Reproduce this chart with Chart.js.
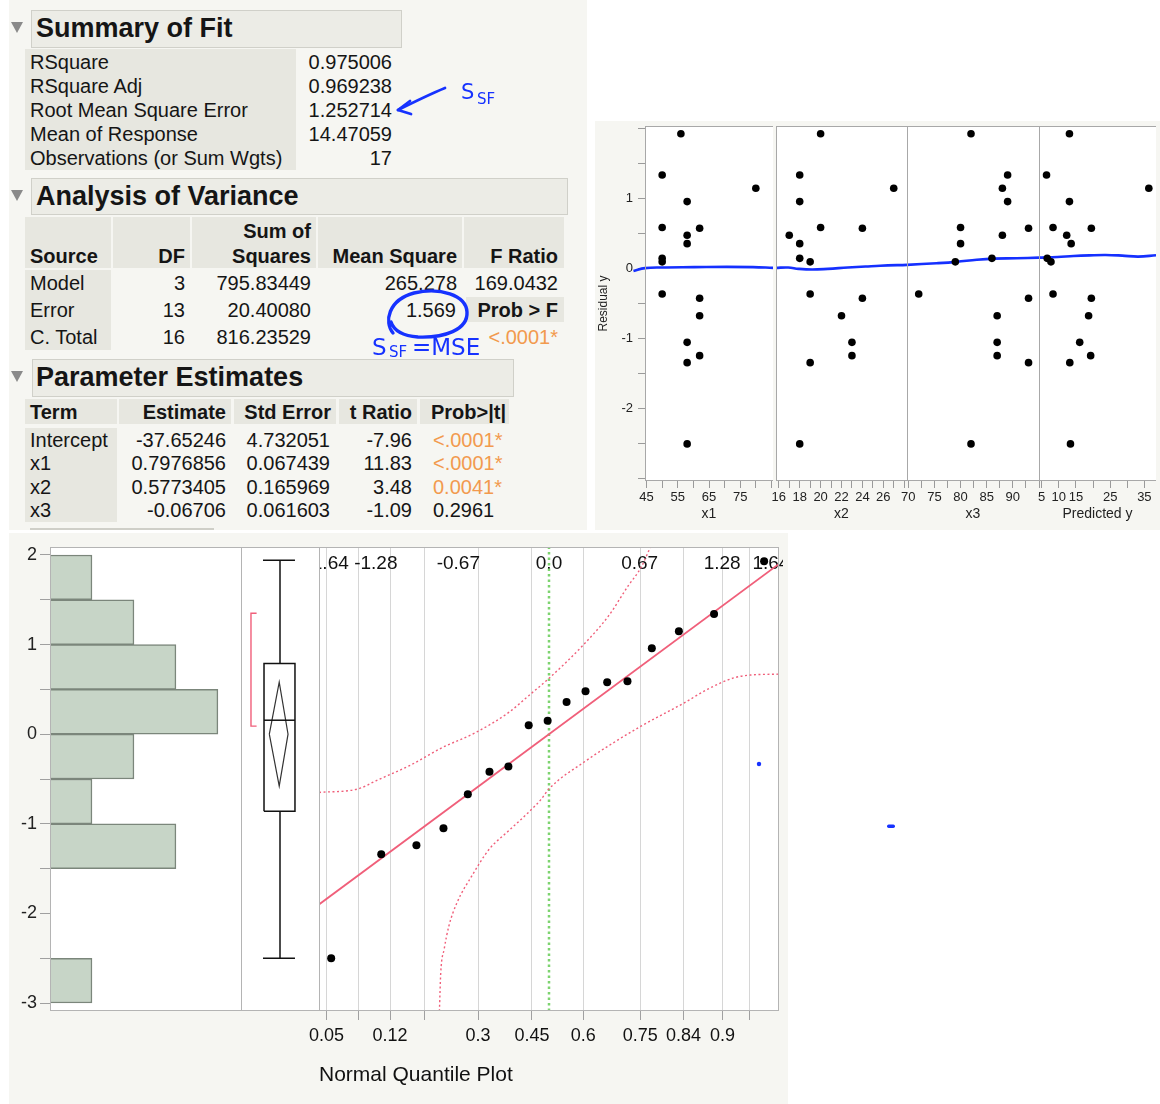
<!DOCTYPE html>
<html lang="en">
<head>
<meta charset="utf-8">
<title>Fit Least Squares - y</title>
<script src="https://cdn.jsdelivr.net/npm/chart.js@4.4.1/dist/chart.umd.min.js"></script>
<style>
  html, body { margin: 0; padding: 0; background: #fff; }
  body { position: relative; width: 1160px; height: 1104px; overflow: hidden;
         font-family: "Liberation Sans", Arial, Helvetica, sans-serif; color: #151515; }
  .panel { position: absolute; background: #f6f6f2; }
  .cell { position: absolute; background: #e7e7e0; }
  .hbox { position: absolute; background: #ececE6; border: 1px solid #d0d0c9; box-sizing: border-box; }
  .tri { position: absolute; width: 0; height: 0; border-left: 6px solid transparent;
         border-right: 6px solid transparent; border-top: 11px solid #8a8a8a; }
  .t { position: absolute; white-space: nowrap; font-size: 20px; line-height: 24px; height: 24px; }
  .b { font-weight: bold; }
  .h { font-weight: bold; font-size: 27px; line-height: 32px; height: 32px; }
  .o { color: #f29a4e; }
  canvas { position: absolute; }
  #ink { position: absolute; left: 0; top: 0; z-index: 10; pointer-events: none; }
</style>
</head>
<body>
<!-- panel backgrounds -->
<div class="panel" style="left:9px;top:0;width:578px;height:530px"></div>
<div class="panel" style="left:595px;top:121px;width:565px;height:409px"></div>
<div class="panel" style="left:9px;top:533px;width:779px;height:571px"></div>

<!-- report tables (cells + header boxes) -->
<div class="tri" style="left:11px;top:22px"></div>
<div class="hbox" style="left:31px;top:10px;width:371px;height:38px"></div>
<div class="cell" style="left:25px;top:49px;width:271px;height:121px"></div>

<div class="tri" style="left:11px;top:190px"></div>
<div class="hbox" style="left:31px;top:178px;width:537px;height:37px"></div>
<div class="cell" style="left:25px;top:217px;width:86px;height:51px"></div>
<div class="cell" style="left:113px;top:217px;width:77px;height:51px"></div>
<div class="cell" style="left:192px;top:217px;width:124px;height:51px"></div>
<div class="cell" style="left:318px;top:217px;width:144px;height:51px"></div>
<div class="cell" style="left:464px;top:217px;width:100px;height:51px"></div>
<div class="cell" style="left:25px;top:270px;width:86px;height:80px"></div>
<div class="cell" style="left:466px;top:297px;width:98px;height:25px"></div>

<div class="tri" style="left:11px;top:371px"></div>
<div class="hbox" style="left:32px;top:359px;width:482px;height:38px"></div>
<div class="cell" style="left:25px;top:399px;width:92px;height:25px"></div>
<div class="cell" style="left:119px;top:399px;width:112px;height:25px"></div>
<div class="cell" style="left:234px;top:399px;width:102px;height:25px"></div>
<div class="cell" style="left:339px;top:399px;width:78px;height:25px"></div>
<div class="cell" style="left:420px;top:399px;width:89px;height:25px"></div>
<div class="cell" style="left:25px;top:428px;width:92px;height:94px"></div>
<div style="position:absolute;left:30px;top:528px;width:184px;height:2px;background:#cfcfc8"></div>

<!-- charts -->
<canvas id="r1" width="182" height="408" style="left:595px;top:122px"></canvas>
<canvas id="r2" width="151" height="408" style="left:766px;top:122px"></canvas>
<canvas id="r3" width="152" height="408" style="left:897px;top:122px"></canvas>
<canvas id="r4" width="131" height="408" style="left:1029px;top:122px"></canvas>
<canvas id="hist" width="242" height="571" style="left:0;top:533px"></canvas>
<canvas id="qq" width="483" height="571" style="left:300px;top:533px"></canvas>
<canvas id="box" width="78" height="571" style="left:241px;top:533px"></canvas>

<!-- handwritten notes -->
<svg id="ink" width="1160" height="1104" viewBox="0 0 1160 1104">
  <g fill="none" stroke="#1632ff" stroke-width="2.8" stroke-linecap="round" stroke-linejoin="round">
    <path d="M445 88 C428 95 412 103 398 110"/>
    <path d="M410 101 L398 110 L411 114"/>
    <path d="M393 333 C384 322 388 300 414 293 C440 287 466 295 467 312 C468 330 444 338 418 337 C404 336 394 331 391 322" stroke-width="3.4"/>
  </g>
  <g fill="#1632ff" font-family="DejaVu Sans, sans-serif">
    <text x="461" y="99" font-size="21">S</text>
    <text x="477" y="104" font-size="15">SF</text>
    <text x="372" y="355" font-size="23">S</text>
    <text x="389" y="357" font-size="15">SF</text>
    <text x="412" y="355" font-size="23">=MSE</text>
    <circle cx="759" cy="764" r="2.2"/>
    <rect x="887" y="824.5" width="8" height="3.5" rx="1.7"/>
  </g>
</svg>

<script>
// ---- residuals vs. each term (one entry per observation) ----
const obsResidual = [1.93, 1.34, 1.15, 0.96, 0.59, 0.58, 0.48, 0.36, 0.15, 0.10, -0.36, -0.42, -0.67, -1.05, -1.24, -1.34, -2.50];
const obsX1 = [56, 50, 80, 58, 50, 62, 58, 58, 50, 50, 50, 62, 62, 58, 62, 58, 58];
const obsX2 = [20, 18, 27, 18, 20, 24, 17, 18, 18, 19, 19, 24, 22, 23, 23, 19, 18];
const obsX3 = [82, 89, 88, 89, 80, 93, 88, 80, 86, 79, 72, 93, 87, 87, 87, 93, 82];
const obsPred = [13.1, 6.4, 36.3, 13.1, 8.3, 19.5, 12.3, 13.6, 6.6, 7.7, 8.3, 19.5, 18.7, 16.1, 19.3, 13.2, 13.4];

// smoother (blue) in each panel: [x, residual]
const smoothX1 = [[40.8, -0.03], [44.5, 0.01], [49.8, 0.02], [60.3, 0.024], [70.7, 0.028], [79.1, 0.024], [85.5, 0.014]];
const smoothX2 = [[15.73, 0.014], [16.9, 0.019], [17.9, 0.0], [19.2, -0.01], [20.7, 0.0], [22.6, 0.019], [24.3, 0.033], [25.7, 0.045], [28.27, 0.057]];
const smoothX3 = [[69.76, 0.057], [75.4, 0.08], [79.2, 0.1], [83.1, 0.13], [86.3, 0.146], [90.7, 0.151], [95.0, 0.16]];
const smoothPred = [[4.2, 0.16], [9.6, 0.17], [14.3, 0.184], [19.0, 0.193], [23.7, 0.198], [28.5, 0.189], [33.2, 0.175], [38.4, 0.193]];

// axis ticks for the residual panels
const resTicks = [-3, -2.5, -2, -1.5, -1, -0.5, 0, 0.5, 1, 1.5, 2];
const resTickLabels = [-2, -1, 0, 1];
const x1Ticks = [45, 50, 55, 60, 65, 70, 75, 80, 85];
const x1Labels = [45, 55, 65, 75];
const x2Ticks = [16, 17, 18, 19, 20, 21, 22, 23, 24, 25, 26, 27, 28];
const x2Labels = [16, 18, 20, 22, 24, 26];
const x3Ticks = [70, 72.5, 75, 77.5, 80, 82.5, 85, 87.5, 90, 92.5, 95];
const x3Labels = [70, 75, 80, 85, 90];
const predTicks = [5, 10, 15, 20, 25, 30, 35];
const predLabels = [5, 10, 15, 25, 35];

// ---- distribution of residuals ----
const binCenters = [-2.75, -2.25, -1.75, -1.25, -0.75, -0.25, 0.25, 0.75, 1.25, 1.75];
const binCounts = [1, 0, 0, 3, 1, 2, 4, 3, 2, 1];
const histTicks = [-3, -2.5, -2, -1.5, -1, -0.5, 0, 0.5, 1, 1.5, 2];

// outlier box: [min, q1, median, q3, max], means diamond: [lower, mean, upper], shortest half: [low, high]
const boxValues = [-2.50, -0.86, 0.156, 0.79, 1.94];
const meanDiamond = [-0.58, 0.0, 0.58];
const shortestHalf = [0.09, 1.35];

// normal quantile plot
const qqZ = [-1.61, -1.24, -0.98, -0.78, -0.60, -0.44, -0.30, -0.15, -0.01, 0.13, 0.27, 0.43, 0.58, 0.76, 0.96, 1.22, 1.59];
const qqResidual = [-2.50, -1.34, -1.24, -1.05, -0.67, -0.42, -0.36, 0.10, 0.15, 0.36, 0.48, 0.58, 0.59, 0.96, 1.15, 1.34, 1.93];
const refLine = [[-1.70, -1.90], [1.70, 1.90]];
const upperBand = [[-1.70, -0.65], [-1.41, -0.61], [-1.28, -0.52], [-1.03, -0.35], [-0.79, -0.15], [-0.54, 0.02], [-0.30, 0.24],
                   [-0.15, 0.43], [-0.01, 0.61], [0.25, 0.99], [0.44, 1.32], [0.585, 1.655], [0.68, 1.86], [0.75, 2.09]];
const lowerBand = [[-0.81, -3.09], [-0.80, -2.66], [-0.775, -2.40], [-0.74, -2.14], [-0.68, -1.88], [-0.57, -1.58], [-0.44, -1.28],
                   [-0.30, -1.08], [-0.15, -0.87], [-0.06, -0.73], [0.0, -0.61], [0.27, -0.30], [0.44, -0.13], [0.68, 0.09],
                   [1.0, 0.35], [1.17, 0.50], [1.37, 0.63], [1.49, 0.66], [1.70, 0.67]];
const zTicks = [-1.64, -1.28, -0.67, 0, 0.67, 1.28, 1.64];
const zLabels = ['-1.64', '-1.28', '-0.67', '0.0', '0.67', '1.28', '1.64'];
const probTickZ = [-1.645, -1.41, -1.175, -0.92, -0.524, -0.126, 0.253, 0.674, 0.994, 1.282, 1.48];
const probLabels = ['0.05', '', '0.12', '', '0.3', '0.45', '0.6', '0.75', '0.84', '0.9', ''];

// ---- report text ----
const reportText = [
  ['Summary of Fit', 36, 28, 'l', 'h'],
  ['RSquare', 30, 62, 'l'], ['RSquare Adj', 30, 86, 'l'], ['Root Mean Square Error', 30, 110, 'l'],
  ['Mean of Response', 30, 134, 'l'], ['Observations (or Sum Wgts)', 30, 158, 'l'],
  ['0.975006', 392, 62, 'r'], ['0.969238', 392, 86, 'r'], ['1.252714', 392, 110, 'r'], ['14.47059', 392, 134, 'r'], ['17', 392, 158, 'r'],

  ['Analysis of Variance', 36, 196, 'l', 'h'],
  ['Source', 30, 256, 'l', 'b'], ['DF', 185, 256, 'r', 'b'], ['Sum of', 311, 231, 'r', 'b'], ['Squares', 311, 256, 'r', 'b'],
  ['Mean Square', 457, 256, 'r', 'b'], ['F Ratio', 558, 256, 'r', 'b'],
  ['Model', 30, 283, 'l'], ['3', 185, 283, 'r'], ['795.83449', 311, 283, 'r'], ['265.278', 457, 283, 'r'], ['169.0432', 558, 283, 'r'],
  ['Error', 30, 310, 'l'], ['13', 185, 310, 'r'], ['20.40080', 311, 310, 'r'], ['1.569', 456, 310, 'r'], ['Prob > F', 558, 310, 'r', 'b'],
  ['C. Total', 30, 337, 'l'], ['16', 185, 337, 'r'], ['816.23529', 311, 337, 'r'], ['<.0001*', 558, 337, 'r', 'o'],

  ['Parameter Estimates', 36, 377, 'l', 'h'],
  ['Term', 30, 412, 'l', 'b'], ['Estimate', 226, 412, 'r', 'b'], ['Std Error', 331, 412, 'r', 'b'],
  ['t Ratio', 412, 412, 'r', 'b'], ['Prob>|t|', 506, 412, 'r', 'b'],
  ['Intercept', 30, 440, 'l'], ['-37.65246', 226, 440, 'r'], ['4.732051', 330, 440, 'r'], ['-7.96', 412, 440, 'r'], ['<.0001*', 433, 440, 'l', 'o'],
  ['x1', 30, 463, 'l'], ['0.7976856', 226, 463, 'r'], ['0.067439', 330, 463, 'r'], ['11.83', 412, 463, 'r'], ['<.0001*', 433, 463, 'l', 'o'],
  ['x2', 30, 487, 'l'], ['0.5773405', 226, 487, 'r'], ['0.165969', 330, 487, 'r'], ['3.48', 412, 487, 'r'], ['0.0041*', 433, 487, 'l', 'o'],
  ['x3', 30, 510, 'l'], ['-0.06706', 226, 510, 'r'], ['0.061603', 330, 510, 'r'], ['-1.09', 412, 510, 'r'], ['0.2961', 433, 510, 'l']
];

reportText.forEach(([text, x, y, align, cls]) => {
  const d = document.createElement('div');
  d.className = 't ' + (cls || '');
  d.textContent = text;
  d.style.top = (y - (cls === 'h' ? 16 : 12)) + 'px';
  if (align === 'r') d.style.right = (1160 - x) + 'px';
  else d.style.left = x + 'px';
  document.body.appendChild(d);
});

// ---- chart setup ----
Chart.defaults.font.family = '"Liberation Sans", Arial, Helvetica, sans-serif';
Chart.defaults.color = '#222';
Chart.defaults.animation = false;
Chart.defaults.responsive = false;
Chart.defaults.plugins.legend.display = false;
Chart.defaults.plugins.tooltip.enabled = false;

const resMin = -3.03, resMax = 2.04;   // residual panel y range
const qMin = -3.089, qMax = 2.089;     // distribution panel y range

// white plot area + thin gray frame
const plotFrame = {
  id: 'plotFrame',
  beforeDraw(chart) {
    const a = chart.chartArea, c = chart.ctx;
    c.save();
    c.fillStyle = '#fff';
    c.fillRect(a.left, a.top, a.right - a.left, a.bottom - a.top);
    c.restore();
  },
  afterDraw(chart, args, opts) {
    const a = chart.chartArea, c = chart.ctx, s = opts.sides || 'ltrb';
    const l = Math.round(a.left) + 0.5, r = Math.round(a.right) - 0.5;
    const t = Math.round(a.top) + 0.5, b = Math.round(a.bottom) - 0.5;
    c.save();
    c.strokeStyle = opts.color || '#b0b0b0';
    c.lineWidth = 1;
    c.beginPath();
    if (s.includes('t')) { c.moveTo(a.left, t); c.lineTo(a.right, t); }
    if (s.includes('b')) { c.moveTo(a.left, b); c.lineTo(a.right, b); }
    if (s.includes('l')) { c.moveTo(l, a.top); c.lineTo(l, a.bottom); }
    if (s.includes('r')) { c.moveTo(r, a.top); c.lineTo(r, a.bottom); }
    c.stroke();
    c.restore();
  }
};

const setTicks = list => s => { s.ticks = list.map(v => ({ value: v })); };
const labelIf = list => v => list.includes(v) ? String(v) : '';
const toXY = pairs => pairs.map(p => ({ x: p[0], y: p[1] }));
// fix an axis box size and drop the label-overflow padding so plot areas line up
const fixBox = (w, h) => s => {
  if (w !== null) s.width = w;
  if (h !== null) s.height = h;
  s.paddingTop = 0; s.paddingBottom = 0; s.paddingLeft = 0; s.paddingRight = 0;
};

function residualPanel(id, xs, smooth, ax) {
  const yScale = ax.withY ? {
    min: resMin, max: resMax,
    afterBuildTicks: setTicks(resTicks),
    afterFit: fixBox(50, null),
    ticks: { callback: labelIf(resTickLabels), autoSkip: false, font: { size: 13 }, padding: 5 },
    grid: { drawOnChartArea: false, tickLength: 7, tickColor: '#9a9a9a' },
    border: { display: false },
    title: { display: true, text: 'Residual y', font: { size: 12 }, padding: { top: 1, bottom: 0 } }
  } : { display: false, min: resMin, max: resMax };

  new Chart(document.getElementById(id), {
    type: 'scatter',
    data: {
      datasets: [
        { data: xs.map((x, i) => ({ x: x, y: obsResidual[i] })), pointRadius: 3.8,
          pointBackgroundColor: '#000', pointBorderWidth: 0 },
        { data: toXY(smooth), showLine: true, borderColor: '#1530ff', borderWidth: 2.6,
          pointRadius: 0, tension: 0.4, clip: false }
      ]
    },
    options: {
      layout: { padding: ax.pad },
      plugins: { plotFrame: { sides: 'ltb', color: '#a8a8a8' } },
      scales: {
        x: {
          type: 'linear', min: ax.min, max: ax.max,
          afterBuildTicks: setTicks(ax.ticks),
          afterFit: fixBox(null, 49),
          ticks: { callback: labelIf(ax.labels), autoSkip: false, maxRotation: 0, font: { size: 13 }, padding: 2 },
          grid: { drawOnChartArea: false, tickLength: 7, tickColor: '#9a9a9a' },
          border: { display: false },
          title: { display: true, text: ax.title, font: { size: 14 }, padding: { top: 0, bottom: 7 } }
        },
        y: yScale
      }
    },
    plugins: [plotFrame]
  });
}

residualPanel('r1', obsX1, smoothX1, { min: 44.5, max: 85.5, ticks: x1Ticks, labels: x1Labels, title: 'x1',
  withY: true, pad: { top: 1, left: 0, right: 1, bottom: 0 } });
residualPanel('r2', obsX2, smoothX2, { min: 15.73, max: 28.27, ticks: x2Ticks, labels: x2Labels, title: 'x2',
  pad: { top: 1, left: 10, right: 10, bottom: 0 } });
residualPanel('r3', obsX3, smoothX3, { min: 69.76, max: 95.0, ticks: x3Ticks, labels: x3Labels, title: 'x3',
  pad: { top: 1, left: 10, right: 10, bottom: 0 } });
residualPanel('r4', obsPred, smoothPred, { min: 4.2, max: 38.4, ticks: predTicks, labels: predLabels, title: 'Predicted y',
  pad: { top: 1, left: 10, right: 0, bottom: 0 } });

// histogram (horizontal bars)
new Chart(document.getElementById('hist'), {
  type: 'bar',
  data: {
    datasets: [{
      data: binCenters.map((c, i) => ({ x: binCounts[i], y: c })),
      backgroundColor: '#c7d5c7', borderColor: '#7b867b', borderWidth: 1.5,
      barPercentage: 1, categoryPercentage: 1
    }]
  },
  options: {
    indexAxis: 'y',
    layout: { padding: { top: 14, right: 1, bottom: 93, left: 0 } },
    plugins: { plotFrame: { sides: 'ltb', color: '#b4b4b4' } },
    scales: {
      x: { type: 'linear', display: false, min: 0, max: 4.55 },
      y: {
        type: 'linear', min: qMin, max: qMax, offset: false,
        afterBuildTicks: setTicks(histTicks),
        afterFit: fixBox(50, null),
        ticks: { callback: v => Number.isInteger(v) ? String(v) : '', autoSkip: false, font: { size: 18 }, padding: 3 },
        grid: { drawOnChartArea: false, offset: false, tickLength: 10, tickColor: '#a0a0a0' },
        border: { display: false }
      }
    }
  },
  plugins: [plotFrame]
});

// normal quantile plot
const pink = 'rgb(240,95,122)';
new Chart(document.getElementById('qq'), {
  type: 'scatter',
  data: {
    datasets: [
      { data: qqZ.map((z, i) => ({ x: z, y: qqResidual[i] })), pointRadius: 4,
        pointBackgroundColor: '#000', pointBorderWidth: 0 },
      { data: toXY(refLine), showLine: true, borderColor: pink, borderWidth: 1.8, pointRadius: 0 },
      { data: toXY(upperBand), showLine: true, borderColor: pink, borderWidth: 1.4, borderDash: [2, 2.5],
        pointRadius: 0, cubicInterpolationMode: 'monotone' },
      { data: toXY(lowerBand), showLine: true, borderColor: pink, borderWidth: 1.4, borderDash: [2, 2.5],
        pointRadius: 0, cubicInterpolationMode: 'monotone' },
      { data: [{ x: 0, y: qMin }, { x: 0, y: qMax }], showLine: true, borderColor: 'rgb(125,211,111)',
        borderWidth: 2.5, borderDash: [2.5, 3], pointRadius: 0 }
    ]
  },
  options: {
    layout: { padding: { top: 14, left: 19, right: 1, bottom: 0 } },
    plugins: { plotFrame: { sides: 'ltrb', color: '#b4b4b4' } },
    scales: {
      x: {
        type: 'linear', position: 'bottom', min: -1.70, max: 1.70,
        afterBuildTicks: setTicks(probTickZ),
        afterFit: fixBox(null, 93),
        ticks: { callback: (v, i) => probLabels[i], autoSkip: false, maxRotation: 0, font: { size: 18 }, color: '#111', padding: 5 },
        grid: { color: '#d6d6d6', tickLength: 9, tickColor: '#a0a0a0' },
        border: { display: false },
        title: { display: true, text: 'Normal Quantile Plot', align: 'start', font: { size: 21 }, color: '#111',
                 padding: { top: 0, bottom: 16 } }
      },
      x2: {
        type: 'linear', position: 'top', min: -1.70, max: 1.70,
        afterBuildTicks: setTicks(zTicks),
        afterFit: fixBox(null, 0),
        // mirror keeps the labels unclipped so they can sit inside the plot frame
        ticks: { callback: (v, i) => zLabels[i], autoSkip: false, maxRotation: 0, mirror: true,
                 font: { size: 19 }, color: '#111', padding: 5 },
        grid: { display: false, drawTicks: false },
        border: { display: false }
      },
      y: { display: false, min: qMin, max: qMax }
    }
  },
  plugins: [plotFrame]
});

// outlier box plot with means diamond and shortest-half bracket
const BX = { l: 0.295, r: 0.692, mid: 0.5, capL: 0.282, capR: 0.692, dL: 0.363, dR: 0.603, dMid: 0.49, brk: 0.128, brkTip: 0.2 };
const seg = (pts, color, width) => ({ data: pts, showLine: true, borderColor: color, borderWidth: width, pointRadius: 0, tension: 0 });
const [bMin, bQ1, bMed, bQ3, bMax] = boxValues;
const [dLo, dMean, dHi] = meanDiamond;
new Chart(document.getElementById('box'), {
  type: 'scatter',
  data: {
    datasets: [
      seg([{ x: BX.mid, y: bQ3 }, { x: BX.mid, y: bMax }], '#111', 1.5),
      seg([{ x: BX.mid, y: bMin }, { x: BX.mid, y: bQ1 }], '#111', 1.5),
      seg([{ x: BX.capL, y: bMax }, { x: BX.capR, y: bMax }], '#111', 1.5),
      seg([{ x: BX.capL, y: bMin }, { x: BX.capR, y: bMin }], '#111', 1.5),
      seg([{ x: BX.l, y: bQ1 }, { x: BX.r, y: bQ1 }, { x: BX.r, y: bQ3 }, { x: BX.l, y: bQ3 }, { x: BX.l, y: bQ1 }], '#111', 1.5),
      seg([{ x: BX.l, y: bMed }, { x: BX.r, y: bMed }], '#111', 1.5),
      seg([{ x: BX.dL, y: dMean }, { x: BX.dMid, y: dHi }, { x: BX.dR, y: dMean }, { x: BX.dMid, y: dLo }, { x: BX.dL, y: dMean }], '#333', 1.2),
      seg([{ x: BX.brkTip, y: shortestHalf[1] }, { x: BX.brk, y: shortestHalf[1] }, { x: BX.brk, y: shortestHalf[0] }, { x: BX.brkTip, y: shortestHalf[0] }], pink, 1.4)
    ]
  },
  options: {
    layout: { padding: { top: 14, left: 0, right: 0, bottom: 93 } },
    plugins: { plotFrame: { sides: 'ltb', color: '#b4b4b4' } },
    scales: {
      x: { type: 'linear', display: false, min: 0, max: 1 },
      y: { display: false, min: qMin, max: qMax }
    }
  },
  plugins: [plotFrame]
});
</script>
</body>
</html>
